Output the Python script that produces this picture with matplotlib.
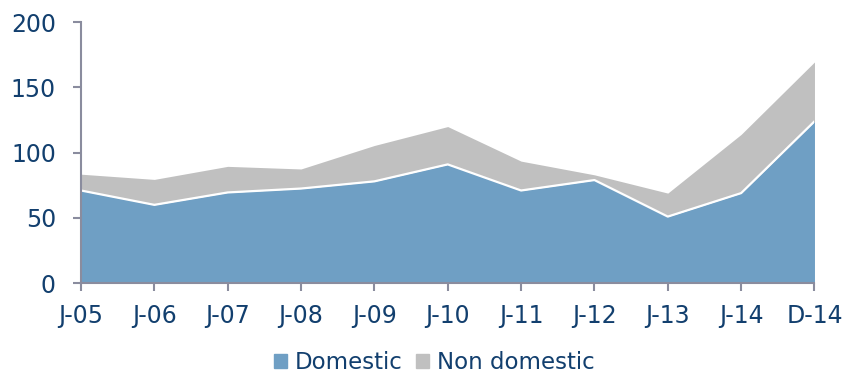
import matplotlib.pyplot as plt
from matplotlib.patches import Patch

# issuance by period
periods = ["J-05", "J-06", "J-07", "J-08", "J-09", "J-10", "J-11", "J-12", "J-13", "J-14", "D-14"]
domestic = [71, 60, 69.5, 72.5, 78, 91, 71, 79, 51, 69, 124]
non_domestic = [12.5, 19.5, 20, 15, 27.5, 29, 22.5, 4, 18, 45, 45.5]

blue = "#6f9fc4"
grey = "#c0c0c0"
navy = "#123f6e"
axcol = "#8a8c9e"

fig = plt.figure(figsize=(8.47, 3.76), dpi=100)
ax = fig.add_axes([0.0956, 0.247, 0.866, 0.694])

x = list(range(len(periods)))
total = [d + n for d, n in zip(domestic, non_domestic)]
ax.fill_between(x, 0, domestic, color=blue, lw=0)
ax.fill_between(x, domestic, total, color=grey, lw=0)
ax.plot(x, domestic, color="white", lw=1.6)

ax.set_xlim(0, len(periods) - 1)
ax.set_ylim(0, 200)
ax.set_yticks([0, 50, 100, 150, 200])
ax.set_xticks(x)
ax.set_xticklabels(periods)

for s in ["top", "right"]:
    ax.spines[s].set_visible(False)
for s in ["left", "bottom"]:
    ax.spines[s].set_color(axcol)
    ax.spines[s].set_linewidth(1.5)
ax.tick_params(colors=axcol, labelcolor=navy, labelsize=17, length=6, width=1.5)
ax.tick_params(axis="y", pad=12)
ax.tick_params(axis="x", pad=9)

handles = [Patch(color=blue), Patch(color=grey)]
fig.legend(handles, ["Domestic", "Non domestic"], loc="center", bbox_to_anchor=(0.513, 0.035),
           ncol=2, frameon=False, fontsize=16.5, labelcolor=navy,
           handlelength=0.55, handleheight=0.55, handletextpad=0.35, columnspacing=0.6)

fig.savefig("out.png", dpi=100)
